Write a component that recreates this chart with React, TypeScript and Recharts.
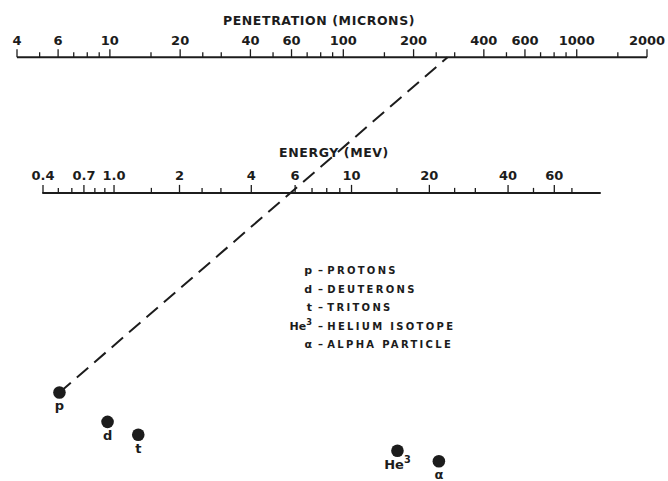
import { ComposedChart, XAxis, YAxis, Scatter, ReferenceLine } from 'recharts'

// nomogram frame: x/y of the "plane" are 0..100 across the chart
const PEN_TICKS = [4, 5, 6, 7, 8, 9, 10, 15, 20, 25, 30, 40, 50, 60, 70, 80, 90, 100, 150, 200, 250, 300, 400, 500, 600, 700, 800, 900, 1000, 1500, 2000]
const PEN_LABELS = [4, 6, 10, 20, 40, 60, 100, 200, 400, 600, 1000, 2000]
const PEN_DOMAIN: [number, number] = [4, 2000]
const PEN_ROW = 88.1

const ENERGY_TICKS = [0.4, 0.5, 0.6, 0.7, 0.8, 0.9, 1.0, 1.5, 2, 2.5, 3, 4, 6, 7, 8, 9, 10, 15, 20, 25, 30, 40, 50, 60, 70]
const ENERGY_LABELS = [0.4, 0.7, 1.0, 2, 4, 6, 10, 20, 40, 60]
const ENERGY_DOMAIN: [number, number] = [0.4, 89.5]
// the energy scale is not a plain log: it runs as log(E + 0.3)
const ENERGY_SHIFT = 0.3
const ENERGY_ROW = 59.9

const PARTICLES = [
  { name: 'p', x: 8.9, y: 18.4 },
  { name: 'd', x: 16.1, y: 12.3 },
  { name: 't', x: 20.7, y: 9.6 },
  { name: 'He3', x: 59.5, y: 6.3 },
  { name: 'α', x: 65.7, y: 4.1 },
]

// proton example: p -> 6 MeV -> ~290 microns
const PROTON_LINE = [
  { x: 8.9, y: 18.4 },
  { x: 67.0, y: 88.1 },
]

const LEGEND_SYMBOLS = ['p', 'd', 't', 'He3', 'α']
const LEGEND_NAMES = ['PROTONS', 'DEUTERONS', 'TRITONS', 'HELIUM ISOTOPE', 'ALPHA PARTICLE']

const INK = '#1c1c1c'
const FONT = '"DejaVu Sans", sans-serif'

const fmtEnergy = (v: number) => (v === 1 ? '1.0' : String(v))

const penData = PEN_TICKS.map((v) => ({
  x: v,
  y: PEN_ROW,
  label: PEN_LABELS.includes(v) ? String(v) : '',
}))

const energyData = ENERGY_TICKS.map((e) => ({
  x: e + ENERGY_SHIFT,
  y: ENERGY_ROW,
  label: ENERGY_LABELS.includes(e) ? fmtEnergy(e) : '',
}))

function ScaleTick(props: any) {
  const { cx, cy, payload } = props
  const major = payload.label !== ''
  const h = major ? 8 : 5
  return (
    <g>
      <line x1={cx} y1={cy} x2={cx} y2={cy - h} stroke={INK} strokeWidth={1.3} />
      {major && (
        <text
          x={cx}
          y={cy - 12.5}
          textAnchor="middle"
          fontFamily={FONT}
          fontWeight="bold"
          fontSize={13}
          fill={INK}
        >
          {payload.label}
        </text>
      )}
    </g>
  )
}

function ParticleSymbol({ name, size }: { name: string; size: number }) {
  if (name === 'He3') {
    return (
      <>
        He
        <tspan dy={-size * 0.4} fontSize={size * 0.75}>
          3
        </tspan>
      </>
    )
  }
  return <>{name}</>
}

function ParticleDot(props: any) {
  const { cx, cy, payload } = props
  return (
    <g>
      <circle cx={cx} cy={cy} r={6.3} fill={INK} />
      <text x={cx} y={cy + 18} textAnchor="middle" fontFamily={FONT} fontWeight="bold" fontSize={13} fill={INK}>
        <ParticleSymbol name={payload.name} size={13} />
      </text>
    </g>
  )
}

function Titles() {
  return (
    <g fontFamily={FONT} fontWeight="bold" fill={INK} fontSize={12.5} letterSpacing={0.6}>
      <text x={319} y={25} textAnchor="middle">
        PENETRATION (MICRONS)
      </text>
      <text x={334} y={157} textAnchor="middle">
        ENERGY (MEV)
      </text>
      <g fontSize={10} letterSpacing={2.3}>
        {LEGEND_NAMES.map((n, i) => (
          <g key={n}>
            <text x={312} y={274 + i * 18.6} textAnchor="end" letterSpacing={0} fontSize={11}>
              <ParticleSymbol name={LEGEND_SYMBOLS[i]} size={11} />
            </text>
            <text x={318} y={274 + i * 18.6}>
              –<tspan dx={2}>{n}</tspan>
            </text>
          </g>
        ))}
      </g>
    </g>
  )
}

export default function App() {
  return (
    <div style={{ position: 'absolute', left: 0, top: 0, width: 668, height: 481, background: '#fff' }}>
      <ComposedChart width={668} height={481} margin={{ top: 0, right: 0, bottom: 0, left: 0 }}>
        <XAxis
          xAxisId="pen"
          dataKey="x"
          type="number"
          scale="log"
          domain={PEN_DOMAIN}
          padding={{ left: 17, right: 21 }}
          hide
        />
        <XAxis
          xAxisId="energy"
          dataKey="x"
          type="number"
          scale="log"
          domain={[ENERGY_DOMAIN[0] + ENERGY_SHIFT, ENERGY_DOMAIN[1] + ENERGY_SHIFT]}
          padding={{ left: 43, right: 68 }}
          hide
        />
        <XAxis xAxisId="plane" dataKey="x" type="number" domain={[0, 100]} hide />
        <YAxis dataKey="y" type="number" domain={[0, 100]} hide />

        <ReferenceLine
          xAxisId="pen"
          segment={[
            { x: PEN_DOMAIN[0], y: PEN_ROW },
            { x: PEN_DOMAIN[1], y: PEN_ROW },
          ]}
          stroke={INK}
          strokeWidth={1.8}
          ifOverflow="visible"
        />
        <ReferenceLine
          xAxisId="energy"
          segment={[
            { x: ENERGY_DOMAIN[0] + ENERGY_SHIFT, y: ENERGY_ROW },
            { x: ENERGY_DOMAIN[1] + ENERGY_SHIFT, y: ENERGY_ROW },
          ]}
          stroke={INK}
          strokeWidth={2}
          strokeLinecap="round"
          ifOverflow="visible"
        />
        <ReferenceLine
          xAxisId="plane"
          segment={PROTON_LINE}
          stroke={INK}
          strokeWidth={2}
          strokeDasharray="15 8"
          ifOverflow="visible"
        />

        <Scatter xAxisId="pen" data={penData} shape={ScaleTick} isAnimationActive={false} legendType="none" />
        <Scatter xAxisId="energy" data={energyData} shape={ScaleTick} isAnimationActive={false} legendType="none" />
        <Scatter xAxisId="plane" data={PARTICLES} shape={ParticleDot} isAnimationActive={false} legendType="none" />

        <Titles />
      </ComposedChart>
    </div>
  )
}
